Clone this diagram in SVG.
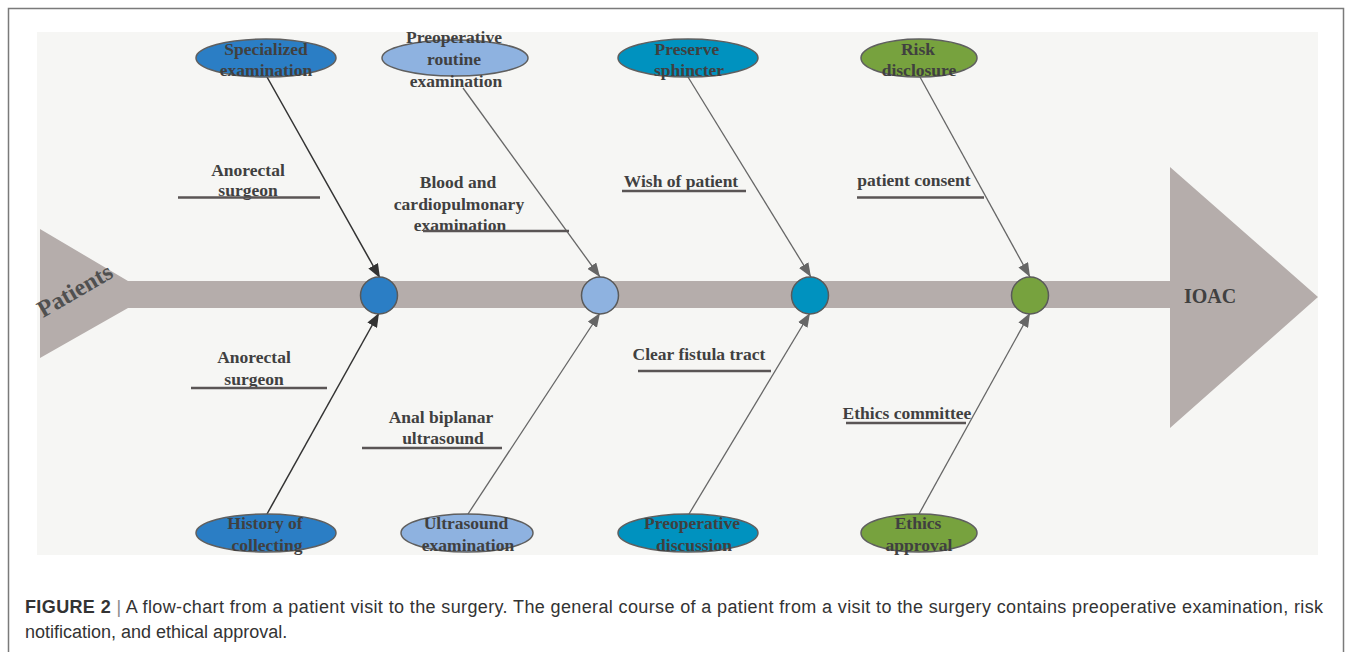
<svg xmlns="http://www.w3.org/2000/svg" width="1347" height="652" viewBox="0 0 1347 652">
  <style>
    .lbl { font-family: "Liberation Serif", "Times New Roman", serif; font-weight: bold; font-size: 17.5px; fill: #404040; text-anchor: middle; }
    .ell { stroke: #5f5f5f; stroke-width: 1.5; }
    .hub { stroke: #5a5a5a; stroke-width: 1.5; }
    .ul { stroke: #5a5555; stroke-width: 2.5; fill: none; }
    .con { stroke: #666; stroke-width: 1.3; fill: none; marker-end: url(#ahGray); }
    .con.dark { stroke: #333; stroke-width: 1.5; marker-end: url(#ahDark); }
    .c1 { fill: #2b7ec5; }
    .c2 { fill: #8eb2e0; }
    .c3 { fill: #0092bf; }
    .c4 { fill: #77a23e; }
    .bone { fill: #b5adab; }
    .cap { font-family: "Liberation Sans", Arial, sans-serif; font-size: 18px; fill: #333; }
  </style>
  <defs>
    <marker id="ahGray" markerUnits="userSpaceOnUse" markerWidth="15" markerHeight="11" refX="14" refY="5.5" orient="auto">
      <path d="M0,0 L14,5.5 L0,11 z" fill="#666"/>
    </marker>
    <marker id="ahDark" markerUnits="userSpaceOnUse" markerWidth="15" markerHeight="11" refX="14" refY="5.5" orient="auto">
      <path d="M0,0 L14,5.5 L0,11 z" fill="#333"/>
    </marker>
  </defs>

  <rect x="0" y="0" width="1347" height="652" fill="#ffffff"/>
  <rect x="8.5" y="8.5" width="1335" height="680" fill="none" stroke="#7a7a7a" stroke-width="1.5"/>
  <rect x="37" y="32" width="1281" height="523" fill="#f6f6f4"/>

  <!-- spine -->
  <g id="spine">
    <polygon class="bone" points="40,229 128,281 1170,281 1170,167 1318,297 1170,428 1170,308 128,308 40,358"/>
    <text transform="translate(43,318) rotate(-30)" style="font-family: 'Liberation Serif', 'Times New Roman', serif; font-weight: bold; font-size: 24px; fill: #505050;">Patients</text>
    <text x="1210" y="303" class="lbl" style="font-size:20px;">IOAC</text>
  </g>

  <!-- connectors -->
  <g id="connectors">
    <line class="con dark" x1="267" y1="77" x2="380" y2="278"/>
    <line class="con" x1="463" y1="88" x2="600" y2="277"/>
    <line class="con" x1="688" y1="77" x2="811" y2="277"/>
    <line class="con" x1="920" y1="77" x2="1030" y2="277"/>
    <line class="con dark" x1="267" y1="514" x2="379" y2="313"/>
    <line class="con" x1="468" y1="514" x2="600" y2="313"/>
    <line class="con" x1="689" y1="514" x2="810" y2="313"/>
    <line class="con" x1="919" y1="514" x2="1030" y2="313"/>
  </g>

  <!-- hubs -->
  <g id="hub1"><circle class="hub c1" cx="379" cy="295.5" r="18.5"/></g>
  <g id="hub2"><circle class="hub c2" cx="600" cy="295.5" r="18.5"/></g>
  <g id="hub3"><circle class="hub c3" cx="810" cy="295.5" r="18.5"/></g>
  <g id="hub4"><circle class="hub c4" cx="1030" cy="295.5" r="18.5"/></g>

  <!-- top ellipses -->
  <g id="specialized-examination">
    <ellipse class="ell c1" cx="266" cy="58" rx="70" ry="19"/>
    <text class="lbl" x="266" y="55">Specialized</text>
    <text class="lbl" x="266" y="76">examination</text>
  </g>
  <g id="preoperative-routine-examination">
    <ellipse class="ell c2" cx="455" cy="58" rx="73" ry="18"/>
    <text class="lbl" x="454" y="43">Preoperative</text>
    <text class="lbl" x="454" y="65">routine</text>
    <text class="lbl" x="456" y="87">examination</text>
  </g>
  <g id="preserve-sphincter">
    <ellipse class="ell c3" cx="688" cy="58" rx="70" ry="19"/>
    <text class="lbl" x="687" y="55">Preserve</text>
    <text class="lbl" x="689" y="76">sphincter</text>
  </g>
  <g id="risk-disclosure">
    <ellipse class="ell c4" cx="919" cy="58" rx="58" ry="19"/>
    <text class="lbl" x="918" y="55">Risk</text>
    <text class="lbl" x="919" y="76">disclosure</text>
  </g>

  <!-- bottom ellipses -->
  <g id="history-of-collecting">
    <ellipse class="ell c1" cx="266" cy="533" rx="70" ry="19"/>
    <text class="lbl" x="265" y="529">History of</text>
    <text class="lbl" x="267" y="551">collecting</text>
  </g>
  <g id="ultrasound-examination">
    <ellipse class="ell c2" cx="467" cy="533" rx="66" ry="19"/>
    <text class="lbl" x="466" y="529">Ultrasound</text>
    <text class="lbl" x="468" y="551">examination</text>
  </g>
  <g id="preoperative-discussion">
    <ellipse class="ell c3" cx="688" cy="533" rx="70" ry="19"/>
    <text class="lbl" x="692" y="529">Preoperative</text>
    <text class="lbl" x="694" y="551">discussion</text>
  </g>
  <g id="ethics-approval">
    <ellipse class="ell c4" cx="919" cy="533" rx="58" ry="19"/>
    <text class="lbl" x="918" y="529">Ethics</text>
    <text class="lbl" x="919" y="551">approval</text>
  </g>

  <!-- branch labels -->
  <g id="label-anorectal-top">
    <text class="lbl" x="248" y="176">Anorectal</text>
    <text class="lbl" x="248" y="196">surgeon</text>
    <line class="ul" x1="178" y1="197.5" x2="320" y2="197.5"/>
  </g>
  <g id="label-blood">
    <text class="lbl" x="458" y="188">Blood and</text>
    <text class="lbl" x="459" y="210">cardiopulmonary</text>
    <text class="lbl" x="460" y="231">examination</text>
    <line class="ul" x1="423" y1="231" x2="569" y2="231"/>
  </g>
  <g id="label-wish">
    <text class="lbl" x="681" y="187">Wish of patient</text>
    <line class="ul" x1="622" y1="191" x2="746" y2="191"/>
  </g>
  <g id="label-consent">
    <text class="lbl" x="914" y="186">patient consent</text>
    <line class="ul" x1="857" y1="197.5" x2="984" y2="197.5"/>
  </g>
  <g id="label-anorectal-bottom">
    <text class="lbl" x="254" y="363">Anorectal</text>
    <text class="lbl" x="254" y="385">surgeon</text>
    <line class="ul" x1="191" y1="388" x2="327" y2="388"/>
  </g>
  <g id="label-anal">
    <text class="lbl" x="441" y="423">Anal biplanar</text>
    <text class="lbl" x="443" y="444">ultrasound</text>
    <line class="ul" x1="362" y1="448" x2="502" y2="448"/>
  </g>
  <g id="label-fistula">
    <text class="lbl" x="699" y="360">Clear fistula tract</text>
    <line class="ul" x1="638" y1="371" x2="771" y2="371"/>
  </g>
  <g id="label-ethics-committee">
    <text class="lbl" x="907" y="419">Ethics committee</text>
    <line class="ul" x1="846" y1="423" x2="966" y2="423"/>
  </g>

  <!-- caption -->
  <g id="caption">
    <text class="cap" x="25" y="613" textLength="1298" lengthAdjust="spacing"><tspan font-weight="bold">FIGURE 2</tspan> <tspan fill="#888">|</tspan> A flow-chart from a patient visit to the surgery. The general course of a patient from a visit to the surgery contains preoperative examination, risk</text>
    <text class="cap" x="25" y="638">notification, and ethical approval.</text>
  </g>
</svg>
